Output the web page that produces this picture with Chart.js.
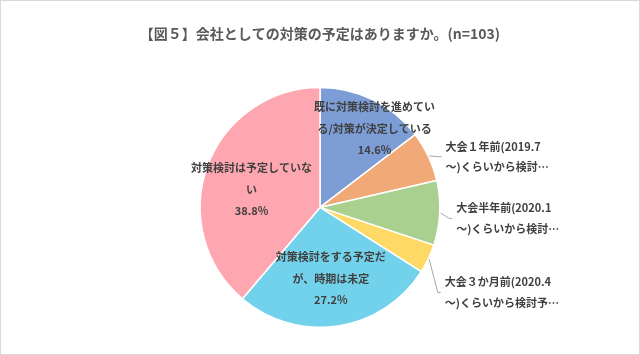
<!DOCTYPE html>
<html><head><meta charset="utf-8">
<script src="https://cdn.jsdelivr.net/npm/chart.js@4"></script>
<style>html,body{margin:0;padding:0;background:#fff}#wrap{width:640px;height:355px;position:relative}</style>
</head><body><div id="wrap"><canvas id="c" width="640" height="355"></canvas></div>
<script>
const titleText = "【図５】会社としての対策の予定はありますか。(n=103)";
const categories = [
  "既に対策検討を進めている/対策が決定している",
  "大会１年前(2019.7～)くらいから検討予定",
  "大会半年前(2020.1～)くらいから検討予定",
  "大会３か月前(2020.4～)くらいから検討予定",
  "対策検討をする予定だが、時期は未定",
  "対策検討は予定していない"
];
const values = [14.6, 6.8, 8.7, 3.9, 27.2, 38.8];
const labelLines = [
  ["既に対策検討を進めてい", "る/対策が決定している", "14.6%"],
  ["大会１年前(2019.7", "～)くらいから検討…"],
  ["大会半年前(2020.1", "～)くらいから検討…"],
  ["大会３か月前(2020.4", "～)くらいから検討予…"],
  ["対策検討をする予定だ", "が、時期は未定", "27.2%"],
  ["対策検討は予定していな", "い", "38.8%"]
];
const colors = ["#7C9DD5", "#F1A977", "#A9D08E", "#FFD966", "#72D2EC", "#FFA7B0"];
// label placement: inside -> fraction of slice angle & radius fraction; outside -> angle offset (deg) & radius fraction
const labelPlace = [
  {inside: true, frac: 0.66, r: 0.80},
  {inside: false, dAng: 3.2, r: 1.13},
  {inside: false, dAng: 1.9, r: 1.14},
  {inside: false, dAng: 8.9, r: 1.26},
  {inside: true, frac: 0.5, r: 0.60},
  {inside: true, frac: 0.46, r: 0.59}
];
const FONT = '"Noto Sans CJK JP", "Noto Sans", sans-serif';

const labelPlugin = {
  id: 'sliceLabels',
  beforeDraw(chart) {
    const ctx = chart.ctx;
    ctx.save();
    ctx.strokeStyle = '#D9D9D9';
    ctx.lineWidth = 1;
    ctx.strokeRect(0.5, 0.5, chart.width - 1, chart.height - 1);
    ctx.restore();
  },
  afterDatasetsDraw(chart) {
    const ctx = chart.ctx;
    const meta = chart.getDatasetMeta(0);
    ctx.save();
    ctx.font = 'bold 11px ' + FONT;
    ctx.fillStyle = '#404040';
    ctx.textBaseline = 'middle';
    const lh = 21.5;
    meta.data.forEach((arc, i) => {
      const p = arc.getProps(['x', 'y', 'startAngle', 'endAngle', 'outerRadius'], true);
      const R = p.outerRadius;
      const pl = labelPlace[i];
      const lines = labelLines[i];
      if (pl.inside) {
        const a = p.startAngle + (p.endAngle - p.startAngle) * pl.frac;
        const cx = p.x + Math.cos(a) * R * pl.r;
        const cy = p.y + Math.sin(a) * R * pl.r;
        ctx.textAlign = 'center';
        const y0 = cy - (lines.length - 1) * lh / 2;
        lines.forEach((t, k) => ctx.fillText(t, cx, y0 + k * lh));
      } else {
        const mid = (p.startAngle + p.endAngle) / 2;
        const a = mid + pl.dAng * Math.PI / 180;
        const ax = p.x + Math.cos(a) * R * pl.r;
        const ay = p.y + Math.sin(a) * R * pl.r;
        const ex = p.x + Math.cos(mid) * (R + 1);
        const ey = p.y + Math.sin(mid) * (R + 1);
        ctx.strokeStyle = '#A6A6A6';
        ctx.lineWidth = 1;
        ctx.beginPath();
        ctx.moveTo(ex, ey);
        ctx.lineTo(ax - 7, ay);
        ctx.lineTo(ax - 4, ay);
        ctx.stroke();
        ctx.textAlign = 'left';
        const lh2 = 20.5;
        const y0 = ay - (lines.length - 1) * lh2 / 2;
        lines.forEach((t, k) => ctx.fillText(t, ax, y0 + k * lh2));
      }
    });
    ctx.restore();
  }
};

new Chart(document.getElementById('c'), {
  type: 'pie',
  data: {
    labels: categories,
    datasets: [{
      data: values,
      backgroundColor: colors,
      borderColor: '#FFFFFF',
      borderWidth: 1.5
    }]
  },
  options: {
    responsive: false,
    animation: false,
    layout: {padding: {top: 0, bottom: 27, left: 0, right: 0}},
    plugins: {
      legend: {display: false},
      tooltip: {enabled: false},
      title: {
        display: true,
        text: titleText,
        color: '#595959',
        font: {family: FONT, size: 14, weight: 'bold'},
        padding: {top: 25, bottom: 45}
      }
    }
  },
  plugins: [labelPlugin]
});
</script>
</body></html>
